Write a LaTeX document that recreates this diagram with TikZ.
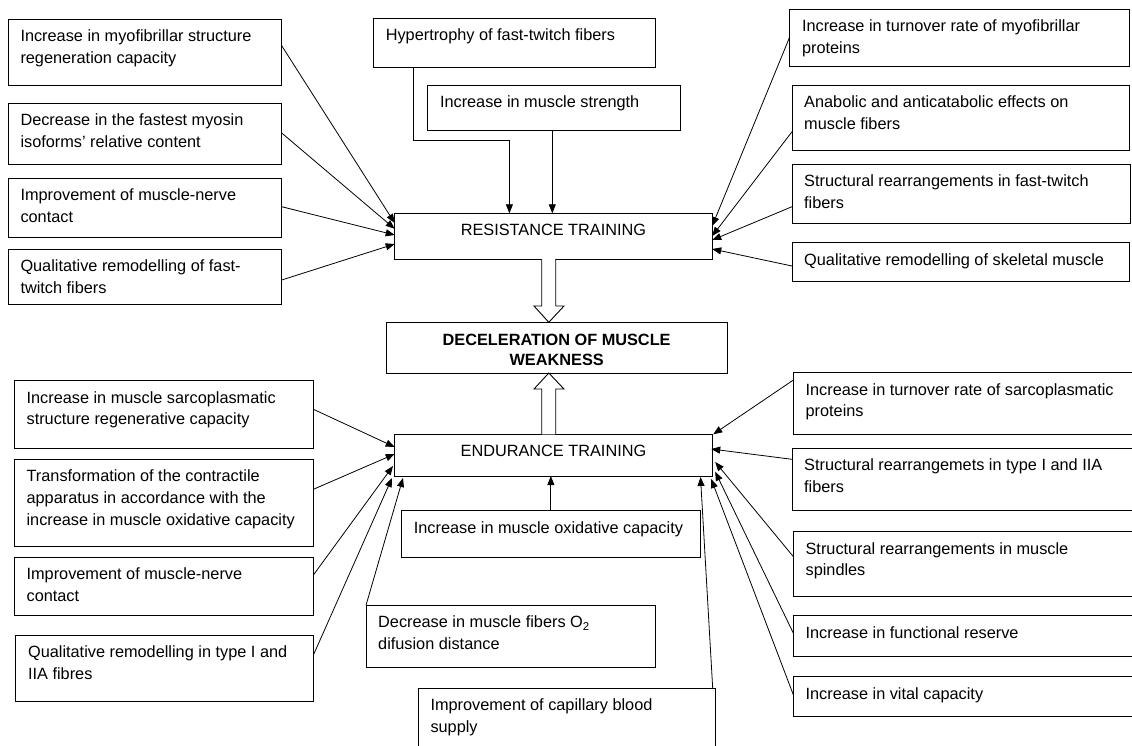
\documentclass[tikz,border=0pt]{standalone}
\usepackage{fontspec}
\setmainfont{Liberation Sans}
\usetikzlibrary{arrows.meta,calc}
\tikzset{
  boxs/.style={draw, line width=0.9pt, inner sep=0pt, outer sep=0pt},
  txt/.style={anchor=base west, inner sep=0pt, font=\fontsize{16.3}{21.8}\selectfont},
  ctxt/.style={anchor=base, inner sep=0pt, font=\fontsize{16.3}{21.8}\selectfont},
  arr/.style={line width=0.8pt, -{Triangle[length=9pt,width=7pt]}},
  hollow/.style={line width=0.9pt, fill=white, line join=miter},
}
\newcommand\mybox[6]{%
  \node[boxs, minimum width={#4-#2}, minimum height={#5-#3}] (#1) at ({(#2+#4)/2},{(#3+#5)/2}) {};
  \node[txt] (#1t) at ($(#1.north west)+(12,22.4)$) {\begin{tabular}[t]{@{}l@{}}#6\end{tabular}};}
\begin{document}
\begin{tikzpicture}[x=1pt,y=-1pt]
\path[use as bounding box] (0,0) rectangle (1132,745);
\clip (0,0) rectangle (1132,745);

% upper left
\mybox{a1}{8.3}{19.3}{281.7}{85.3}{Increase in myofibrillar structure\\regeneration capacity}
\mybox{a2}{8.3}{103}{281.7}{164}{Decrease in the fastest myosin\\isoforms’ relative content}
\mybox{a3}{8.3}{178}{281.7}{237}{Improvement of muscle-nerve\\contact}
\mybox{a4}{8.3}{249}{281.7}{304}{Qualitative remodelling of fast-\\twitch fibers}
% upper middle
\mybox{hyp}{373.6}{18}{655.5}{67}{Hypertrophy of fast-twitch fibers}
\mybox{str}{427.8}{85}{680.8}{130}{Increase in muscle strength}
% upper right
\mybox{b1}{789.8}{9.3}{1129}{66.7}{Increase in turnover rate of myofibrillar\\proteins}
\mybox{b2}{792}{85.3}{1129}{150.3}{Anabolic and anticatabolic effects on\\muscle fibers}
\mybox{b3}{792}{164}{1130.5}{223}{Structural rearrangements in fast-twitch\\fibers}
\mybox{b4}{792}{242.7}{1129}{281}{Qualitative remodelling of skeletal muscle}

% central boxes
\node[boxs, minimum width={712.2-394.7}, minimum height={259-213.3}] (res) at ({(394.7+712.2)/2},{(213.3+259)/2}) {};
\node[ctxt] (rest) at ($(res.north)+(0,21.9)$) {RESISTANCE TRAINING};
\node[boxs, minimum width={727.3-386}, minimum height={373-322.3}] (dec) at ({(386+727.3)/2},{(322.3+373)/2}) {};
\node[ctxt, font=\bfseries\fontsize{16.3}{20}\selectfont] (dect) at ($(dec.north)+(0,23.6)$) {\begin{tabular}[t]{@{}c@{}}DECELERATION OF MUSCLE\\WEAKNESS\end{tabular}};
\node[boxs, minimum width={712.2-394.7}, minimum height={476-434.3}] (end) at ({(394.7+712.2)/2},{(434.3+476)/2}) {};
\node[ctxt] (endt) at ($(end.north)+(0,22.6)$) {ENDURANCE TRAINING};

% lower left
\mybox{c1}{14.4}{380.7}{313.4}{448.3}{Increase in muscle sarcoplasmatic\\structure regenerative capacity}
\mybox{c2}{14.4}{459.3}{313.4}{546.7}{Transformation of the contractile\\apparatus in accordance with the\\increase in muscle oxidative capacity}
\mybox{c3}{14.4}{557.3}{313.4}{615.3}{Improvement of muscle-nerve\\contact}
\mybox{c4}{15.9}{635}{313.4}{701.7}{Qualitative remodelling in type I and\\IIA fibres}
% lower middle
\mybox{ox}{401.7}{510.7}{700}{557.3}{Increase in muscle oxidative capacity}
\mybox{o2}{366}{605.3}{655.7}{667.7}{Decrease in muscle fibers O\textsubscript{2}\\difusion distance}
\mybox{cap}{418.3}{688.3}{715.7}{770}{Improvement of capillary blood\\supply}
% lower right
\mybox{g1}{793.4}{372.7}{1145}{434.7}{Increase in turnover rate of sarcoplasmatic\\proteins}
\mybox{g2}{792}{448.3}{1145}{510.7}{Structural rearrangemets in type I and IIA\\fibers}
\mybox{g3}{793.4}{531.7}{1145}{596.7}{Structural rearrangements in muscle\\spindles}
\mybox{g4}{793.4}{615.7}{1145}{656}{Increase in functional reserve}
\mybox{g5}{793.4}{676.7}{1145}{716}{Increase in vital capacity}

% connectors into RESISTANCE TRAINING
\draw[arr] ($(a1.north east)+(0,26.4)$) -- ($(res.north west)+(0,9.7)$);
\draw[arr] ($(a2.north east)+(0,30)$) -- ($(res.north west)+(0,15.5)$);
\draw[arr] ($(a3.north east)+(0,28.7)$) -- ($(res.north west)+(0,21.7)$);
\draw[arr] ($(a4.north east)+(0,31)$) -- ($(res.north west)+(0,30.7)$);
\draw[arr] ($(hyp.south west)+(39.8,0)$) |- ($(res.north west)+(114.7,-73.3)$) -- ($(res.north west)+(114.7,0)$);
\draw[arr] ($(str.south west)+(124.5,0)$) -- ($(res.north west)+(157.6,0)$);
\draw[arr] ($(b1.north west)+(0,27.4)$) -- ($(res.north east)+(0,12.7)$);
\draw[arr] ($(b2.north west)+(0,46.4)$) -- ($(res.north east)+(0,22.7)$);
\draw[arr] ($(b3.north west)+(0,42.7)$) -- ($(res.north east)+(0,26.7)$);
\draw[arr] ($(b4.north west)+(0,23.3)$) -- ($(res.north east)+(0,35.7)$);

% hollow arrows
\draw[hollow] ([xshift=-11.75pt]res.south) -- ++(0,47) -- ++(-7.7,0) -- ([xshift=-7.85pt]dec.north) -- ++(15.2,-16.3) -- ++(-8.3,0) -- ++(0,-47);
\draw[hollow] ([xshift=-11.75pt]end.north) -- ++(0,-45.3) -- ++(-7.7,0) -- ([xshift=-7.85pt]dec.south) -- ++(15.2,16) -- ++(-8.3,0) -- ++(0,45.3);

% connectors into ENDURANCE TRAINING
\draw[arr] ($(c1.north east)+(0,28.6)$) -- ($(end.north west)+(0,12.7)$);
\draw[arr] ($(c2.north east)+(0,30)$) -- ($(end.north west)+(0,19.7)$);
\draw[arr] ($(c3.north east)+(0,17.7)$) -- ($(end.north west)+(-1.7,31.7)$);
\draw[arr] ($(c4.north east)+(0,20)$) -- ($(end.south west)+(-2.7,2)$);
\draw[arr] (o2.north west) -- ($(end.south west)+(8.3,2)$);
\draw[arr] (ox.north) -- (end.south -| ox.north);
\draw[arr] ($(cap.north east)+(-3,0)$) -- ($(end.south east)+(-11.7,1)$);
\draw[arr] ($(g1.north west)+(0,7.3)$) -- ($(end.north east)+(1,0)$);
\draw[arr] ($(g2.north west)+(0,11)$) -- ($(end.north east)+(-1,14.7)$);
\draw[arr] ($(g3.north west)+(0,25)$) -- ($(end.north east)+(3,27.7)$);
\draw[arr] ($(g4.north west)+(0,17.6)$) -- ($(end.north east)+(3,37.4)$);
\draw[arr] ($(g5.north west)+(0,18.3)$) -- ($(end.south east)+(-1,3)$);
\end{tikzpicture}
\end{document}
